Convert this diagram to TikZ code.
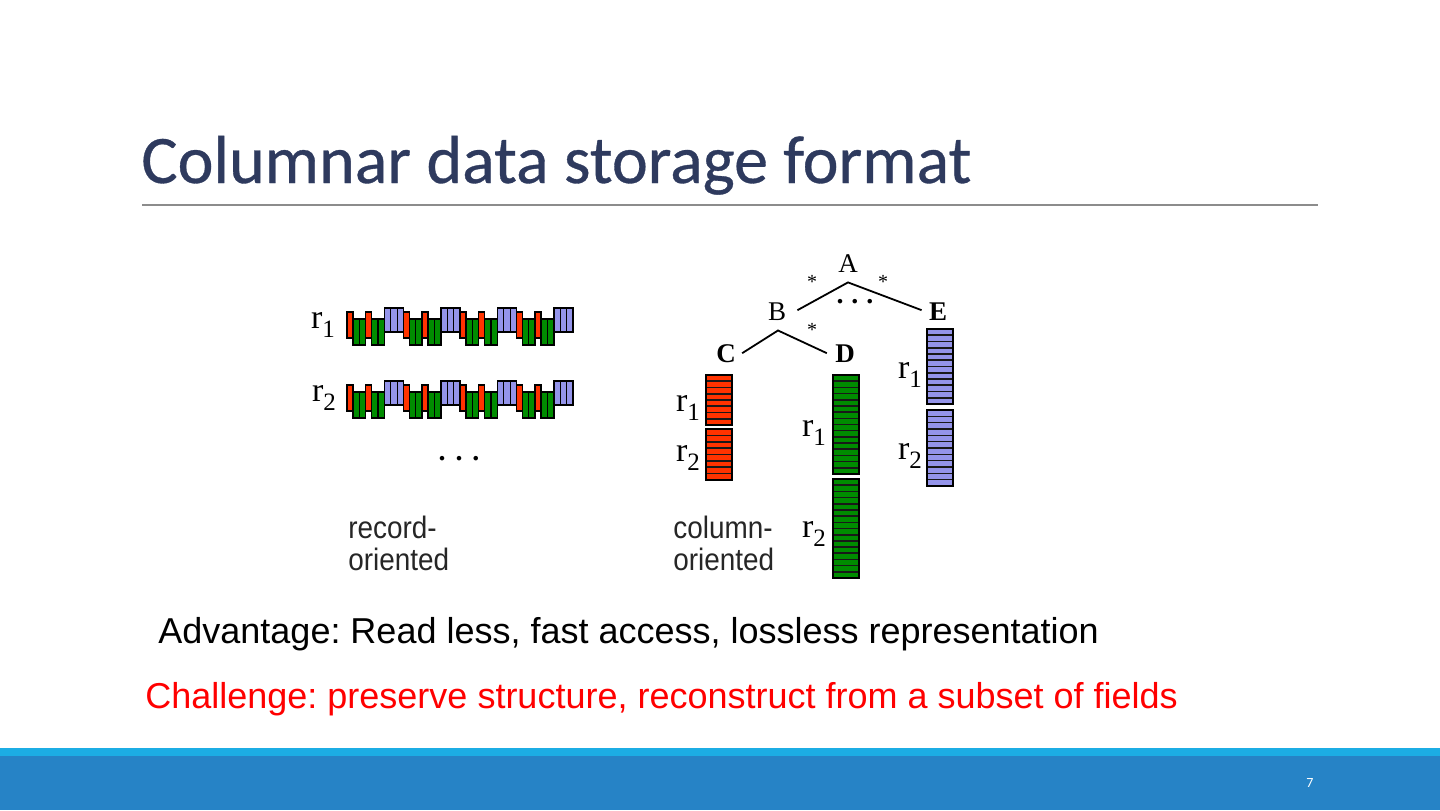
\documentclass[tikz,border=0pt]{standalone}
\usepackage{fontspec}
\setmainfont{Liberation Sans}
\newfontfamily\titlefont[FakeBold=0.5]{Carlito}
\newfontfamily\pagefont{Carlito}
\newfontfamily\seriffont{Liberation Serif}
\newfontfamily\narrowsans[FakeStretch=0.9]{Liberation Sans}
\usetikzlibrary{calc}
\frenchspacing
\definecolor{titleblue}{HTML}{2E3A5E}
\definecolor{bandlight}{HTML}{1CADE4}
\definecolor{banddark}{HTML}{2683C6}
\definecolor{cred}{HTML}{FF3300}
\definecolor{cgreen}{HTML}{008C00}
\definecolor{cblue}{HTML}{9494EA}
\definecolor{rulegray}{HTML}{8C8C8C}
\newcommand\rlab[1]{{\seriffont\fontsize{17}{17}\selectfont r\raisebox{-0.55ex}{\fontsize{12.5}{12.5}\selectfont #1}}}
% column block: x, ytop, ybottom, stripes, color
\newcommand\colblock[5]{%
  \pgfmathsetmacro\hh{(#3-#2)/#4}%
  \fill[#5] (#1,#2) rectangle (#1+26,#3);
  \foreach \i in {1,...,#4}{\draw[bstripe] (#1,#2+\i*\hh) -- ++(26,0);}
  \draw[blockedge] (#1,#2) rectangle (#1+26,#3);
}
% record row: vertical offset
\newcommand\recrow[1]{%
  \foreach \k in {0,...,3}{%
    \pgfmathsetmacro\xx{347+56.5*\k}%
    \draw[cell,fill=cred] (\xx,312+#1) rectangle ++(6,26);
    \draw[cell,fill=cgreen] (\xx+6,319+#1) rectangle ++(12.5,26);
    \draw[stripe] (\xx+12.25,319+#1) -- ++(0,26);
    \draw[cell,fill=cred] (\xx+18.5,312+#1) rectangle ++(6,26);
    \draw[cell,fill=cgreen] (\xx+24.5,319+#1) rectangle ++(13,26);
    \draw[stripe] (\xx+31,319+#1) -- ++(0,26);
    \draw[cell,fill=cblue] (\xx+37.5,308+#1) rectangle ++(19,24);
    \draw[stripe] (\xx+43.8,308+#1) -- ++(0,24);
    \draw[stripe] (\xx+50.2,308+#1) -- ++(0,24);
  }%
}
\begin{document}
\begin{tikzpicture}[x=0.5pt,y=-0.5pt,
  cell/.style={draw=black,line width=0.8pt},
  stripe/.style={draw=black,line width=0.6pt},
  bstripe/.style={draw=black!90,line width=0.8pt},
  blockedge/.style={draw=black,line width=1pt},
  treeline/.style={draw=black,line width=0.9pt},
  treelet/.style={inner sep=0pt,anchor=base,font=\seriffont\fontsize{13.5}{14}\selectfont},
  boldlet/.style={treelet,font=\seriffont\bfseries\fontsize{13.5}{14}\selectfont},
  rlabel/.style={inner sep=0pt,anchor=center},
  star/.style={inner sep=0pt,font=\seriffont\fontsize{10}{10}\selectfont},
  sans/.style={inner sep=0pt,anchor=base west,align=left,font=\narrowsans\fontsize{15.5}{16}\selectfont,text=black!85}
]
\useasboundingbox (0,0) rectangle (1440,810);
\fill[white] (0,0) rectangle (1440,810);
% title
\node[inner sep=0pt,anchor=base west,text=titleblue,font=\titlefont\fontsize{34}{40}\selectfont] (title) at (141,183) {Columnar data storage format};
\draw[rulegray,line width=0.6pt] (142,205) -- (1318,205);
% record-oriented
\node[rlabel] (rr1) at (323,325) {\rlab{1}};
\node[rlabel] (rr2) at (324,398) {\rlab{2}};
\recrow{0}
\recrow{73}
\node[inner sep=0pt,font=\seriffont\bfseries\fontsize{14}{14}\selectfont] (rdots) at (459,459) {.\hspace{5pt}.\hspace{5pt}.};
\node[sans] (rec) at (348,570) {record-\\oriented};
% tree
\node[treelet] (A) at (848,272) {A};
\node[treelet] (B) at (777,320) {B};
\node[boldlet] (E) at (938,320) {E};
\node[boldlet] (C) at (726,362) {C};
\node[boldlet] (D) at (845,362) {D};
\draw[treeline] ($(B.east)+(11,-1)$) -- ($(A.south)+(0,10)$) -- ($(E.west)+(-7,-1)$);
\draw[treeline] ($(C.east)+(6,0)$) -- ($(B.south)+(1,10)$) -- ($(D.west)+(-8,0)$);
\node[star] (s1) at (812,282) {*};
\node[star] (s2) at (883,282) {*};
\node[star] (s3) at (812,330) {*};
\node[inner sep=0pt,font=\seriffont\bfseries\fontsize{14}{14}\selectfont] (tdots) at (855,302) {.\hspace{4pt}.\hspace{4pt}.};
% column blocks
\colblock{706}{375}{425}{8}{cred}
\colblock{706}{429}{480}{8}{cred}
\colblock{833}{375}{474}{16}{cgreen}
\colblock{833}{479}{578}{16}{cgreen}
\colblock{927}{329}{404}{12}{cblue}
\colblock{927}{410}{486}{12}{cblue}
\node[rlabel] (cr1) at (688,408) {\rlab{1}};
\node[rlabel] (cr2) at (688,458) {\rlab{2}};
\node[rlabel] (dr1) at (814,433) {\rlab{1}};
\node[rlabel] (dr2) at (814,534) {\rlab{2}};
\node[rlabel] (er1) at (910,375) {\rlab{1}};
\node[rlabel] (er2) at (910,456) {\rlab{2}};
\node[sans] (col) at (673,570) {column-\\oriented};
% texts
\node[inner sep=0pt,anchor=base west,font=\fontsize{18}{20}\selectfont] (adv) at (158,643) {Advantage: Read less, fast access, lossless representation};
\node[inner sep=0pt,anchor=base west,text=red,font=\fontsize{18}{20}\selectfont] (chal) at (145,708) {Challenge: preserve structure, reconstruct from a subset of fields};
% footer
\fill[bandlight] (0,748) rectangle (1440,756);
\fill[banddark] (0,756) rectangle (1440,810);
\node[inner sep=0pt,text=white,font=\pagefont\fontsize{7}{8}\selectfont] (pg) at (1310,783) {7};
\end{tikzpicture}
\end{document}
